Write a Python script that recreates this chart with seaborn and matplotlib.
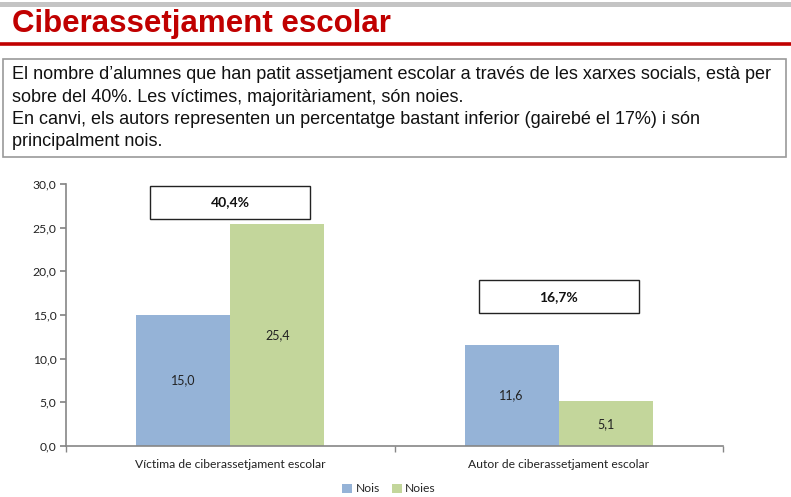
import matplotlib
matplotlib.use("Agg")
import matplotlib.pyplot as plt
import seaborn as sns
import pandas as pd
from matplotlib.patches import Rectangle
from matplotlib.lines import Line2D

# ---- data ----
categories = ["Víctima de ciberassetjament escolar", "Autor de ciberassetjament escolar"]
groups = ["Nois", "Noies"]
nois_values = [15.0, 11.6]
noies_values = [25.4, 5.1]
totals = ["40,4%", "16,7%"]
y_ticks = [0, 5, 10, 15, 20, 25, 30]

title = "Ciberassetjament escolar"
intro_lines = [
    "El nombre d’alumnes que han patit assetjament escolar a través de les xarxes socials, està per",
    "sobre del 40%. Les víctimes, majoritàriament, són noies.",
    "En canvi, els autors representen un percentatge bastant inferior (gairebé el 17%) i són",
    "principalment nois.",
]

colors = {"Nois": "#95B3D7", "Noies": "#C3D69B"}

df = pd.DataFrame({
    "categoria": categories * 2,
    "sexe": [groups[0]] * len(categories) + [groups[1]] * len(categories),
    "valor": nois_values + noies_values,
})

sns.set_theme(style="white")
plt.rcParams["font.family"] = ["Lato", "DejaVu Sans"]

W, H = 791, 497
fig = plt.figure(figsize=(W / 100, H / 100), dpi=100)

def fx(px):
    return px / W

def fy(py):
    return 1 - py / H

# ---- header decoration ----
fig.patches.append(Rectangle((0, fy(7)), 1, fy(2) - fy(7), transform=fig.transFigure,
                             facecolor="#c4c4c4", edgecolor="none"))
fig.text(fx(12), fy(32), title, color="#C00000", fontsize=22.5, fontweight="bold",
         family="Liberation Sans", va="baseline", ha="left")
fig.lines.append(Line2D([0, 1], [fy(44), fy(44)], transform=fig.transFigure,
                        color="#C00000", linewidth=2.6))

# text box
fig.patches.append(Rectangle((fx(3), fy(157)), fx(786) - fx(3), fy(59) - fy(157),
                             transform=fig.transFigure, facecolor="white",
                             edgecolor="#9a9a9a", linewidth=1.2))
line_baselines = [79, 102, 124, 146]
for txt, yy in zip(intro_lines, line_baselines):
    fig.text(fx(12), fy(yy), txt, fontsize=13, family="Liberation Sans",
             color="#111111", va="baseline", ha="left")

# ---- chart ----
ax = fig.add_axes([fx(66), fy(446), fx(723) - fx(66), fy(184) - fy(446)])
sns.barplot(data=df, x="categoria", y="valor", hue="sexe", hue_order=groups,
            palette=colors, width=0.573, saturation=1, linewidth=0, ax=ax, legend=True)

for container in ax.containers:
    ax.bar_label(container, labels=[f"{v:.1f}".replace(".", ",") for v in container.datavalues],
                 label_type="center", fontsize=9, color="#222222")

ax.set_xlim(-0.5, 1.5)
ax.set_ylim(0, 30)
ax.set_yticks(y_ticks)
ax.set_yticklabels([f"{v:.1f}".replace(".", ",") for v in y_ticks], fontsize=8.7, color="#222222")
ax.set_xticks(range(len(categories)))
ax.set_xticklabels(categories, fontsize=8.7, color="#222222")
ax.set_xticks([-0.5, 0.5, 1.5], minor=True)
ax.tick_params(axis="x", which="major", length=0, pad=9)
ax.tick_params(axis="x", which="minor", length=4, color="#868686", direction="out", bottom=True)
ax.tick_params(axis="y", length=4, color="#868686", direction="out", left=True, pad=3)
ax.set_xlabel("")
ax.set_ylabel("")
for s in ["top", "right"]:
    ax.spines[s].set_visible(False)
for s in ["left", "bottom"]:
    ax.spines[s].set_color("#868686")
    ax.spines[s].set_linewidth(1.2)

# total boxes
box_pos = [(0.0, 26.0), (1.0, 15.2)]
for (cx, by), t in zip(box_pos, totals):
    ax.add_patch(Rectangle((cx - 0.243, by), 0.486, 3.8, facecolor="white",
                           edgecolor="#222222", linewidth=1.0, clip_on=False, zorder=5))
    ax.text(cx, by + 1.9, t, ha="center", va="center", fontsize=10, fontweight="bold",
            color="#111111", zorder=6)

# legend
leg = ax.get_legend()
if leg is not None:
    leg.remove()
handles = [Rectangle((0, 0), 1, 1, facecolor=colors[g], edgecolor="none") for g in groups]
fig.legend(handles, groups, loc="center", bbox_to_anchor=(fx(389), fy(489)), ncol=2,
           frameon=False, fontsize=8.7, handlelength=0.8, handleheight=0.8,
           handletextpad=0.3, columnspacing=1.0)

fig.savefig("out.png", dpi=100)
